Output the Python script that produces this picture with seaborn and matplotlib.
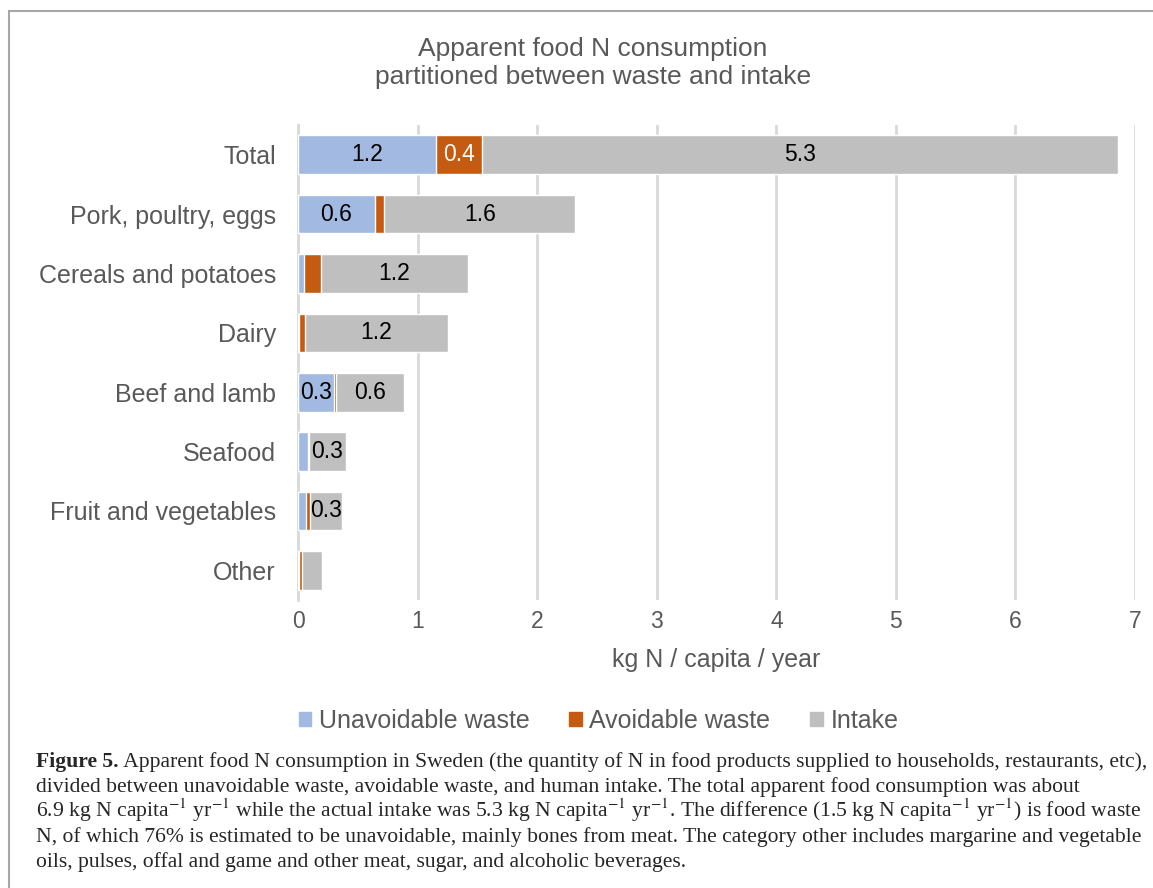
import numpy as np
import pandas as pd
import matplotlib.pyplot as plt
import matplotlib.patches as mpatches
import seaborn as sns

# ----- data (kg N / capita / year) -----
categories = ["Total", "Pork, poultry, eggs", "Cereals and potatoes", "Dairy",
              "Beef and lamb", "Seafood", "Fruit and vegetables", "Other"]
unavoidable = [1.15, 0.64, 0.05, 0.01, 0.30, 0.08, 0.07, 0.01]
avoidable = [0.39, 0.08, 0.14, 0.05, 0.02, 0.01, 0.03, 0.02]
intake = [5.32, 1.60, 1.23, 1.19, 0.57, 0.31, 0.27, 0.17]

# labels shown on the segments (empty = no label)
unavoidable_labels = ["1.2", "0.6", "", "", "0.3", "", "", ""]
avoidable_labels = ["0.4", "", "", "", "", "", "", ""]
intake_labels = ["5.3", "1.6", "1.2", "1.2", "0.6", "0.3", "0.3", ""]

series_names = ["Unavoidable waste", "Avoidable waste", "Intake"]
colors = ["#a2b9e1", "#c55a11", "#bfbfbf"]

df = pd.DataFrame({"category": categories, "unavoidable": unavoidable,
                   "avoidable": avoidable, "intake": intake})
df["cum1"] = df["unavoidable"]
df["cum2"] = df["cum1"] + df["avoidable"]
df["cum3"] = df["cum2"] + df["intake"]

sns.set_style("white")
plt.rcParams["font.family"] = ["Liberation Sans", "DejaVu Sans"]
text_grey = "#595959"

fig = plt.figure(figsize=(11.53, 8.88), dpi=100)
ax = fig.add_axes([0.2585, 0.3243, 0.7259, 0.5349])

# stacked bars: draw cumulative totals back to front
for col, c in zip(["cum3", "cum2", "cum1"], colors[::-1]):
    sns.barplot(data=df, x=col, y="category", order=categories, color=c,
                width=0.65, saturation=1, orient="h", ax=ax, zorder=3)

# segment labels
starts = [np.zeros(len(df)), df["cum1"].values, df["cum2"].values]
lengths = [df["unavoidable"].values, df["avoidable"].values, df["intake"].values]
label_sets = [unavoidable_labels, avoidable_labels, intake_labels]
label_colors = ["black", "white", "black"]
for s, l, labs, lc in zip(starts, lengths, label_sets, label_colors):
    for i, lab in enumerate(labs):
        if lab:
            ax.text(s[i] + l[i] / 2, i, lab, ha="center", va="center",
                    fontsize=16.5, color=lc, zorder=5)

ax.set_xlim(0, 7)
ax.set_xticks(range(0, 8))
ax.grid(axis="x", color="#d9d9d9", linewidth=2, zorder=0)
ax.set_axisbelow(True)
for side in ["top", "right", "bottom"]:
    ax.spines[side].set_visible(False)
ax.spines["left"].set_color("#d9d9d9")
ax.spines["left"].set_linewidth(2)
ax.tick_params(axis="y", length=0, pad=16, labelsize=18, labelcolor=text_grey)
ax.tick_params(axis="x", length=0, pad=7, labelsize=16.5, labelcolor=text_grey)
ax.set_ylabel("")
ax.set_xlabel("kg N / capita / year", fontsize=18, color=text_grey, labelpad=11)

fig.text(0.514, 0.929, "Apparent food N consumption\npartitioned between waste and intake",
         ha="center", va="center", fontsize=19, color=text_grey, linespacing=1.2)

handles = [mpatches.Patch(color=c, label=n) for c, n in zip(colors, series_names)]
fig.legend(handles=handles, loc="center", bbox_to_anchor=(0.519, 0.188), ncol=3,
           frameon=False, fontsize=18, labelcolor=text_grey, handlelength=0.5,
           handleheight=0.5, handletextpad=0.3, columnspacing=1.6)

# chart frame
fig.add_artist(mpatches.Rectangle((9 / 1153, -0.1), 1.2, 1 - 11 / 888 + 0.1,
                                  transform=fig.transFigure, fill=False,
                                  edgecolor="#a6a6a6", linewidth=1.5))

# caption, sized so the first line fills the reference width
serif = ["Liberation Serif", "DejaVu Serif"]
plt.rcParams["mathtext.fontset"] = "stix"
x0 = 36 / 1153
line_y = [767, 792, 817, 842, 867]
caption_lines = [
    " Apparent food N consumption in Sweden (the quantity of N in food products supplied to households, restaurants, etc),",
    "divided between unavoidable waste, avoidable waste, and human intake. The total apparent food consumption was about",
    "6.9 kg N capita$^{-1}$ yr$^{-1}$ while the actual intake was 5.3 kg N capita$^{-1}$ yr$^{-1}$. "
    "The difference (1.5 kg N capita$^{-1}$ yr$^{-1}$) is food waste",
    "N, of which 76% is estimated to be unavoidable, mainly bones from meat. The category other includes margarine and vegetable",
    "oils, pulses, offal and game and other meat, sugar, and alcoholic beverages.",
]
renderer = fig.canvas.get_renderer()
probe_b = fig.text(0, 0, "Figure 5.", fontsize=10, fontweight="bold", family=serif)
probe_r = fig.text(0, 0, caption_lines[0], fontsize=10, family=serif)
w10 = probe_b.get_window_extent(renderer).width + probe_r.get_window_extent(renderer).width
probe_b.remove()
probe_r.remove()
cap_size = 10 * (1148 - 36) / w10

bold = fig.text(x0, 1 - line_y[0] / 888, "Figure 5.", fontsize=cap_size,
                fontweight="bold", family=serif, va="baseline")
bb = bold.get_window_extent(renderer)
for k, (line, y) in enumerate(zip(caption_lines, line_y)):
    xx = bb.x1 / fig.bbox.width if k == 0 else x0
    fig.text(xx, 1 - y / 888, line, fontsize=cap_size, family=serif, va="baseline")

fig.savefig("out.png", dpi=100)
